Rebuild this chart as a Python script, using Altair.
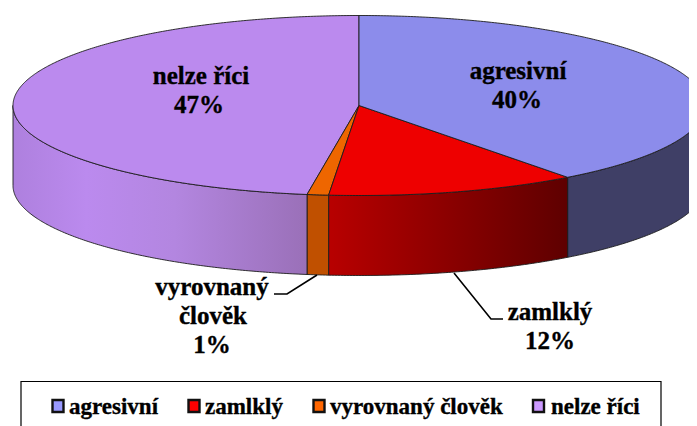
import numpy as np
import pandas as pd
import altair as alt

# --- data
categories = ["agresivní", "zamlklý", "vyrovnaný člověk", "nelze říci"]
slice_shares = [39.7, 11.7, 1.0, 47.6]   # angular share as drawn
shown_percent = [40, 12, 1, 47]          # percentage printed in the labels

# --- styles
top_colors = ["#8c8ceb", "#ee0000", "#ee6600", "#bb8aee"]
legend_colors = ["#9999ff", "#ff0000", "#ff6600", "#cc99ff"]
wall_stops = [
    [(0, "#3f3f66"), (1, "#3f3f66")],
    [(0, "#b80000"), (1, "#5e0000")],
    [(0, "#c05000"), (1, "#c05000")],
    [(0, "#ae80de"), (0.25, "#bb8aee"), (0.55, "#b386e0"), (1, "#9a70b8")],
]

# --- layout (screen pixels)
CX, CY, RX, RY, DEPTH = 359.0, 105.5, 346.0, 90.0, 80.0
FONT = "Liberation Serif"
X_SCALE = alt.Scale(domain=[8, 689], zero=False, nice=False)
Y_SCALE = alt.Scale(domain=[426, 8], zero=False, nice=False)
LINE = "#1c1c1c"


def X(f="x"):
    return alt.X(f"{f}:Q", scale=X_SCALE, axis=None)


def Y(f="y"):
    return alt.Y(f"{f}:Q", scale=Y_SCALE, axis=None)


def rim(a0, a1):
    n = max(2, int(abs(a1 - a0) * 2) + 1)
    th = np.radians(np.linspace(a0, a1, n))
    return CX + RX * np.sin(th), CY - RY * np.cos(th)


def envelope(px, py):
    """Upper and lower bound of a closed polygon, for an area mark."""
    xs = np.unique(np.round(px, 3))
    rows = []
    cxs = np.append(px, px[0])
    cys = np.append(py, py[0])
    for x in xs:
        hits = []
        for i in range(len(px)):
            x0, x1, y0, y1 = cxs[i], cxs[i + 1], cys[i], cys[i + 1]
            if min(x0, x1) - 1e-3 <= x <= max(x0, x1) + 1e-3:
                if abs(x1 - x0) < 1e-6:
                    hits += [y0, y1]
                else:
                    hits.append(y0 + (y1 - y0) * (x - x0) / (x1 - x0))
        rows.append({"x": float(x), "y": min(hits), "y2": max(hits)})
    return pd.DataFrame(rows)


def outline(px, py, width=0.9, color=LINE):
    df = pd.DataFrame({"x": np.append(px, px[0]), "y": np.append(py, py[0])})
    df["i"] = range(len(df))
    return alt.Chart(df).mark_line(stroke=color, strokeWidth=width).encode(
        x=X(), y=Y(), order=alt.Order("i:Q")
    )


def polyline(xs, ys, width=1.6):
    df = pd.DataFrame({"x": xs, "y": ys, "i": range(len(xs))})
    return alt.Chart(df).mark_line(stroke="#000000", strokeWidth=width).encode(
        x=X(), y=Y(), order=alt.Order("i:Q")
    )


edges = np.concatenate([[0], np.cumsum(slice_shares)]) * 3.6
layers = []

# side walls (only the front half of the rim is visible)
for k in range(4):
    a0, a1 = max(edges[k], 90.0), min(edges[k + 1], 270.0)
    rx_, ry_ = rim(a0, a1)
    df = pd.DataFrame({"x": rx_, "y": ry_, "y2": ry_ + DEPTH})
    grad = alt.Gradient(
        gradient="linear", x1=0, x2=1, y1=0, y2=0,
        stops=[alt.GradientStop(offset=o, color=c) for o, c in wall_stops[k]],
    )
    layers.append(
        alt.Chart(df).mark_area(fill=grad, orient="vertical", stroke=None).encode(
            x=X(), y=Y(), y2=alt.Y2("y2:Q")
        )
    )
    wx = np.concatenate([rx_, rx_[::-1]])
    wy = np.concatenate([ry_, (ry_ + DEPTH)[::-1]])
    layers.append(outline(wx, wy))

# top faces
for k in [3, 2, 1, 0]:
    rx_, ry_ = rim(edges[k], edges[k + 1])
    px = np.concatenate([[CX], rx_])
    py = np.concatenate([[CY], ry_])
    layers.append(
        alt.Chart(envelope(px, py)).mark_area(
            fill=top_colors[k], orient="vertical", stroke=None
        ).encode(x=X(), y=Y(), y2=alt.Y2("y2:Q"))
    )
    layers.append(outline(px, py))

# leader lines
layers.append(polyline([274, 287, 317], [294, 294, 275]))
layers.append(polyline([454, 491, 503], [273, 319, 319]))

# slice labels
lab = pd.DataFrame(
    [
        {"t": categories[0], "x": 518, "y": 79},
        {"t": f"{shown_percent[0]}%", "x": 517, "y": 108},
        {"t": categories[3], "x": 201, "y": 84},
        {"t": f"{shown_percent[3]}%", "x": 199, "y": 113},
        {"t": categories[1], "x": 550, "y": 320},
        {"t": f"{shown_percent[1]}%", "x": 550, "y": 349},
        {"t": "vyrovnaný", "x": 212, "y": 295},
        {"t": "člověk", "x": 213, "y": 324},
        {"t": f"{shown_percent[2]}%", "x": 212, "y": 353},
    ]
)
layers.append(
    alt.Chart(lab).mark_text(
        font=FONT, fontWeight="bold", fontSize=25, align="center",
        baseline="alphabetic", color="#000000", stroke="#000000", strokeWidth=0.35,
    ).encode(x=X(), y=Y(), text="t:N")
)

# legend frame, swatches and names
frame = pd.DataFrame([{"x": 21, "x2": 661, "y": 381.5, "y2": 460}])
layers.append(
    alt.Chart(frame).mark_rect(fill="#ffffff", stroke="#000000", strokeWidth=1.2).encode(
        x=X(), x2=alt.X2("x2:Q"), y=Y(), y2=alt.Y2("y2:Q")
    )
)
leg = pd.DataFrame(
    {
        "t": categories,
        "c": legend_colors,
        "sx": [52.5, 188.5, 313.5, 533.0],
        "tx": [69, 205, 330, 551],
    }
)
leg["sx2"] = leg["sx"] + 11
leg["sy"] = 400.0
leg["sy2"] = 412.0
leg["ty"] = 414.0
layers.append(
    alt.Chart(leg).mark_rect(stroke="#111111", strokeWidth=2.4).encode(
        x=X("sx"), x2=alt.X2("sx2:Q"), y=Y("sy"), y2=alt.Y2("sy2:Q"),
        fill=alt.Fill("c:N", scale=None),
    )
)
layers.append(
    alt.Chart(leg).mark_text(
        font=FONT, fontWeight="bold", fontSize=23, align="left",
        baseline="alphabetic", color="#000000", stroke="#000000", strokeWidth=0.35,
    ).encode(x=X("tx"), y=Y("ty"), text="t:N")
)

chart = (
    alt.layer(*layers)
    .properties(width=681, height=418, padding=0, background="#ffffff",
                autosize=alt.AutoSizeParams(type="none"))
    .configure_view(stroke=None)
)
chart.save("out.html", embed_options={"renderer": "svg", "actions": False})
